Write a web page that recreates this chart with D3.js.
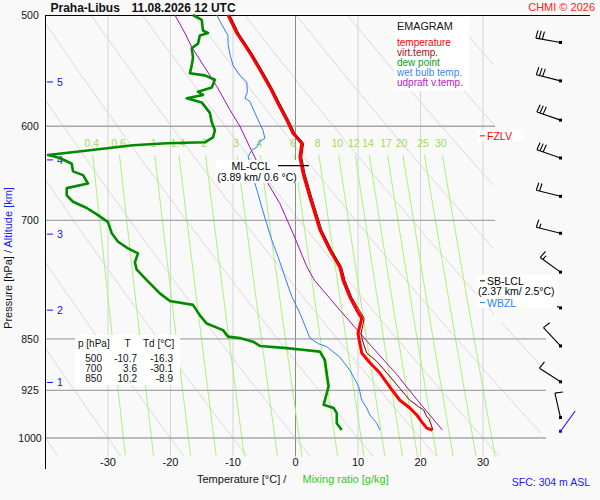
<!DOCTYPE html>
<html lang="en">
<head>
<meta charset="UTF-8">
<title>Emagram Praha-Libus</title>
<script src="https://d3js.org/d3.v7.min.js"></script>
<style>
  body { margin: 0; background: #f9f9f9; }
  svg { display: block; font-family: "Liberation Sans", Arial, sans-serif; }
</style>
</head>
<body>
<script>
// axis levels and labels
const pressureTicks = [500, 600, 700, 850, 925, 1000];
const tempTicks = [-30, -20, -10, 0, 10, 20, 30];
const mixRatios = [0.4, 0.6, 1, 1.4, 2, 3, 4, 6, 8, 10, 12, 14, 17, 20, 25, 30];
const dryAdiabatT1000 = [-40, -30, -20, -10, 0, 10, 20, 30, 40, 50, 60, 70, 80, 90, 100];
const altKm = [1, 2, 3, 4, 5];
const altP = [913, 811, 716, 634, 558];

// sounding
const tempP = [500,515,532,547,563,578,594,607,617,631,648,674,692,711,735,756,772,794,811,822,842,852,870,884,899,920,940,952,963,974,984,987];
const tempT = [-10.8,-9.4,-7.3,-5.7,-4.1,-2.8,-1.4,-0.4,1.0,0.7,1.2,2.3,3.1,3.9,5.5,7.1,7.6,8.7,9.8,10.6,10.0,10.2,10.6,11.9,13.5,15.1,16.7,18.3,19.4,20.2,21.0,21.9];

const virtP = [500,515,532,547,563,578,594,607,617,631,648,674,692,711,735,756,772,794,811,822,842,852,870,882,902,922,940,950,955,966,968,987];
const virtT = [-10.5,-9.1,-7.0,-5.4,-3.8,-2.5,-1.1,-0.1,1.3,1.0,1.5,2.6,3.4,4.2,5.8,7.4,7.9,9.0,10.2,11.0,10.5,10.7,11.4,13.0,14.9,16.7,18.3,19.7,20.5,21.0,21.3,22.0];

const dewP = [500,504,513,515,517,524,528,536,543,550,552,556,563,567,570,573,577,587,596,604,611,616,617,619,624,629,632,638,646,650,659,664,672,679,686,694,702,715,725,733,739,750,759,772,789,799,804,818,829,838,847,849,854,860,863,865,868,880,900,919,940,947,952,960,976,987];
const dewT = [-16.4,-15.0,-14.8,-14.0,-15.3,-15.6,-16.6,-16.4,-16.6,-16.9,-14.5,-12.9,-13.4,-15.6,-14.8,-17.4,-15.0,-13.7,-13.4,-12.9,-13.2,-14.5,-20.6,-26.0,-32.9,-39.6,-37.7,-35.8,-35.6,-34.0,-33.2,-36.6,-36.6,-35.6,-33.4,-31.6,-30.0,-29.4,-28.4,-26.8,-25.2,-25.7,-25.4,-23.8,-21.7,-20.1,-16.4,-15.3,-14.2,-11.6,-10.8,-8.9,-6.8,-5.7,-1.4,0.7,3.9,4.7,5.0,5.3,4.7,4.5,6.1,6.6,6.6,7.4];

const wetP = [500,508,517,524,533,543,552,558,567,573,576,591,604,612,615,621,624,631,645,659,670,685,704,723,743,768,793,815,838,849,857,861,876,895,919,940,952,963,976,987];
const wetT = [-12.6,-11.8,-10.8,-10.8,-10.5,-10.0,-8.9,-7.8,-7.7,-8.1,-7.3,-6.2,-5.2,-4.9,-5.7,-6.2,-7.0,-7.6,-6.8,-6.5,-6.0,-5.4,-4.6,-3.8,-2.8,-1.7,-0.6,0.7,1.8,2.3,3.7,5.0,7.1,8.7,10.1,10.6,11.4,11.9,13.0,13.5];

const parcelP = [500,515,527,545,562,584,600,621,642,650,681,715,755,772,785,811,834,861,900,940,987];
const parcelT = [-19.3,-17.7,-16.6,-14.5,-12.6,-10.5,-8.9,-7.3,-5.7,-5.2,-2.5,-0.4,1.8,3.0,4.4,7.1,9.5,12.2,16.1,19.5,23.5];

// winds
const windP = [523,557,594,632,673,715,762,808,860,912,967];
const windDir = [280,284,289,289,284,284,306,294,317,303,347];
const windKt = [30,30,30,30,20,15,15,10,10,10,10];
const sfcWindP = 989, sfcWindDir = 36, sfcWindKt = 3;

// table
const tabP = [500, 700, 850];
const tabT = [-10.7, 3.6, 10.2];
const tabTd = [-16.3, -30.1, -8.9];

const width = 600, height = 500;
const svg = d3.select("body").append("svg")
    .attr("width", width).attr("height", height);

const x = d3.scaleLinear().domain([-40, 40]).range([45.5, 545.5]);
const y = d3.scaleLog().domain([500, 1000]).range([15, 438]);
const pBottom = 1031;

// clip for the background grid
svg.append("clipPath").attr("id", "gridclip")
  .append("polygon")
  .attr("points", "45.5,15 494,15 494,322 541,322 541,457 45.5,457");

const grid = svg.append("g").attr("clip-path", "url(#gridclip)");

// dry adiabats
const pSteps = d3.range(500, pBottom + 1, 10);
grid.selectAll(".dry").data(dryAdiabatT1000).enter().append("path")
  .attr("fill", "none").attr("stroke", "#d9d9d9").attr("stroke-width", 1)
  .attr("d", t0 => d3.line()
      .x(p => x((t0 + 273.15) * Math.pow(p / 1000, 0.286) - 273.15))
      .y(p => y(p))(pSteps));

// isotherms
grid.selectAll(".iso").data(tempTicks).enter().append("line")
  .attr("x1", d => x(d)).attr("x2", d => x(d))
  .attr("y1", y(500)).attr("y2", y(pBottom))
  .attr("stroke", d => d === 0 ? "#8c8c8c" : "#d4d4d4").attr("stroke-width", 1);

// mixing ratio lines
function tdFromW(w, p) {
  const e = w * p / (622 + w);
  const l = Math.log(e / 6.112);
  return 243.5 * l / (17.67 - l);
}
const mixSteps = d3.range(629, pBottom + 1, 20).concat([pBottom]);
grid.selectAll(".mix").data(mixRatios).enter().append("path")
  .attr("fill", "none").attr("stroke", "#aaf27c").attr("stroke-width", 1)
  .attr("d", w => d3.line().x(p => x(tdFromW(w, p))).y(p => y(p))(mixSteps));

svg.selectAll(".mixlab").data(mixRatios).enter().append("text")
  .attr("x", w => x(tdFromW(w, 620))).attr("y", 147)
  .attr("text-anchor", "middle").attr("font-size", 10.5).attr("fill", "#9fdc58")
  .text(d => d);

// pressure lines
svg.selectAll(".plev").data(pressureTicks.slice(1)).enter().append("line")
  .attr("x1", 45.5).attr("x2", d => d < 800 ? 495 : 546)
  .attr("y1", d => y(d)).attr("y2", d => y(d))
  .attr("stroke", "#a6a6a6").attr("stroke-width", 1.3);

svg.append("line").attr("x1", 45).attr("x2", 590).attr("y1", 15.5).attr("y2", 15.5)
  .attr("stroke", "#000").attr("stroke-width", 1);
svg.append("line").attr("x1", 45.5).attr("x2", 45.5).attr("y1", 15).attr("y2", 469)
  .attr("stroke", "#000").attr("stroke-width", 1);

// pressure labels
svg.selectAll(".plab").data(pressureTicks).enter().append("text")
  .attr("x", 30).attr("y", d => y(d) + 3.8)
  .attr("text-anchor", "middle").attr("font-size", 10.5).attr("fill", "#111")
  .text(d => d);

// temperature labels
svg.selectAll(".tlab").data(tempTicks).enter().append("text")
  .attr("x", d => x(d)).attr("y", 466)
  .attr("text-anchor", "middle").attr("font-size", 11).attr("fill", "#111")
  .text(d => d);

// altitude ticks
const alt = svg.selectAll(".alt").data(altKm).enter().append("g");
alt.append("line").attr("x1", 47).attr("x2", 53)
  .attr("y1", (d, i) => y(altP[i])).attr("y2", (d, i) => y(altP[i]))
  .attr("stroke", "#1010ff");
alt.append("text").attr("x", 57).attr("y", (d, i) => y(altP[i]) + 4)
  .attr("font-size", 10.5).attr("fill", "#1010ff").text(d => d);

// sounding curves
const line = d3.line().x(d => x(d[1])).y(d => y(d[0]));
function curve(ps, ts, color, w) {
  svg.append("path").datum(d3.zip(ps, ts))
    .attr("fill", "none").attr("stroke", color).attr("stroke-width", w)
    .attr("stroke-linejoin", "round").attr("d", line);
}
curve(parcelP, parcelT, "#a80cb4", 1);
curve(wetP, wetT, "#2a7fff", 1);
curve(dewP, dewT, "#008a00", 2.6);
curve(tempP, tempT, "#ff0000", 3);
curve(virtP, virtT, "#8b0000", 1);

// wind barbs
function barb(p, dir, kt, color) {
  const x0 = 560.5, y0 = y(p);
  const a = dir * Math.PI / 180;
  const ux = Math.sin(a), uy = -Math.cos(a);
  const r = 95 * Math.PI / 180;
  const bx = ux * Math.cos(r) - uy * Math.sin(r);
  const by = ux * Math.sin(r) + uy * Math.cos(r);
  const L = 25;
  let d = `M${x0},${y0}L${x0 + ux * L},${y0 + uy * L}`;
  let n = Math.floor(kt / 10), half = (kt % 10) >= 5, k = 0;
  for (; k < n; k++) {
    const sx = x0 + ux * (L - 3.3 * k), sy = y0 + uy * (L - 3.3 * k);
    d += `M${sx},${sy}L${sx + bx * 8},${sy + by * 8}`;
  }
  if (half) {
    const sx = x0 + ux * (L - 3.3 * k), sy = y0 + uy * (L - 3.3 * k);
    d += `M${sx},${sy}L${sx + bx * 4.5},${sy + by * 4.5}`;
  }
  svg.append("path").attr("d", d).attr("fill", "none")
    .attr("stroke", color).attr("stroke-width", 1.1);
  svg.append("rect").attr("x", x0 - 1.5).attr("y", y0 - 1.5)
    .attr("width", 3).attr("height", 3).attr("fill", color);
}
windP.forEach((p, i) => barb(p, windDir[i], windKt[i], "#000"));
barb(sfcWindP, sfcWindDir, sfcWindKt, "#1010ff");

// level markers on the right
function levelBox(x0, y0, w, h) {
  svg.append("rect").attr("x", x0).attr("y", y0).attr("width", w).attr("height", h)
    .attr("fill", "#fff");
}
levelBox(478, 130, 45, 11);
svg.append("line").attr("x1", 480).attr("x2", 485).attr("y1", y(609.5)).attr("y2", y(609.5)).attr("stroke", "#f00");
svg.append("text").attr("x", 487).attr("y", y(609.5) + 4).attr("font-size", 10.5)
  .attr("fill", "#f00").text("FZLV");

levelBox(477, 275, 80, 33);
svg.append("line").attr("x1", 480).attr("x2", 485).attr("y1", y(773)).attr("y2", y(773)).attr("stroke", "#000");
svg.append("text").attr("x", 487).attr("y", y(773) + 4).attr("font-size", 10.5)
  .attr("fill", "#000").text("SB-LCL");
svg.append("text").attr("x", 478).attr("y", y(773) + 14.5).attr("font-size", 10.5)
  .attr("fill", "#000").text("(2.37 km/ 2.5°C)");
svg.append("line").attr("x1", 480).attr("x2", 485).attr("y1", y(801)).attr("y2", y(801)).attr("stroke", "#2a7fff");
svg.append("text").attr("x", 487).attr("y", y(801) + 4).attr("font-size", 10.5)
  .attr("fill", "#2a7fff").text("WBZL");

// ML-CCL label
levelBox(216, 160, 82, 23);
svg.append("line").attr("x1", 278).attr("x2", 309).attr("y1", y(640)).attr("y2", y(640))
  .attr("stroke", "#000").attr("stroke-width", 1.2);
svg.append("text").attr("x", 251).attr("y", y(640) + 4.5).attr("font-size", 10.5)
  .attr("text-anchor", "middle").text("ML-CCL");
svg.append("text").attr("x", 257).attr("y", y(640) + 15.5).attr("font-size", 10.5)
  .attr("text-anchor", "middle").text("(3.89 km/ 0.6 °C)");

// legend
svg.append("rect").attr("x", 394).attr("y", 17).attr("width", 75).attr("height", 74).attr("fill", "#fff");
svg.append("text").attr("x", 397).attr("y", 30).attr("font-size", 10.8).attr("fill", "#111").text("EMAGRAM");
const legNames = ["temperature", "virt.temp.", "dew point", "wet bulb temp.", "udpraft v.temp."];
const legColors = ["#ff0000", "#a01010", "#109a10", "#3a86ff", "#b01cc0"];
svg.selectAll(".leg").data(legNames).enter().append("text")
  .attr("x", 397).attr("y", (d, i) => 45.7 + i * 9.95)
  .attr("font-size", 10).attr("fill", (d, i) => legColors[i]).text(d => d);

// table
svg.append("rect").attr("x", 75).attr("y", 335).attr("width", 105).attr("height", 50).attr("fill", "#fff");
const tab = svg.append("g").attr("font-size", 10).attr("fill", "#111");
tab.append("text").attr("x", 78).attr("y", 347).text("p [hPa]");
tab.append("text").attr("x", 127.5).attr("y", 347).attr("text-anchor", "middle").text("T");
tab.append("text").attr("x", 143).attr("y", 347).text("Td [°C]");
tabP.forEach((p, i) => {
  const ry = 361.5 + i * 10;
  tab.append("text").attr("x", 102).attr("y", ry).attr("text-anchor", "end").text(p);
  tab.append("text").attr("x", 137).attr("y", ry).attr("text-anchor", "end").text(tabT[i].toFixed(1));
  tab.append("text").attr("x", 173).attr("y", ry).attr("text-anchor", "end").text(tabTd[i].toFixed(1));
});

// titles
svg.append("text").attr("x", 50.5).attr("y", 11.8).attr("font-size", 12).attr("font-weight", "bold")
  .attr("fill", "#111").text("Praha-Libus");
svg.append("text").attr("x", 131.5).attr("y", 11.8).attr("font-size", 12).attr("font-weight", "bold")
  .attr("fill", "#111").text("11.08.2026 12 UTC");
svg.append("text").attr("x", 595).attr("y", 10.5).attr("font-size", 11).attr("text-anchor", "end")
  .attr("fill", "#ff2020").text("CHMI © 2026");

const xt = svg.append("text").attr("y", 483).attr("font-size", 11);
xt.append("tspan").attr("x", 197).attr("fill", "#111").text("Temperature [°C]  /");
xt.append("tspan").attr("x", 302.5).attr("fill", "#33c81e").text("Mixing ratio [g/kg]");
svg.append("text").attr("x", 590).attr("y", 485.5).attr("font-size", 10.5).attr("text-anchor", "end")
  .attr("fill", "#1a1aff").text("SFC: 304 m ASL");

const yt = svg.append("text").attr("transform", "translate(12,258) rotate(-90)")
  .attr("text-anchor", "middle").attr("font-size", 11);
yt.append("tspan").attr("fill", "#111").text("Pressure [hPa]  /  ");
yt.append("tspan").attr("fill", "#1a1aff").text("Altitude [km]");
</script>
</body>
</html>
